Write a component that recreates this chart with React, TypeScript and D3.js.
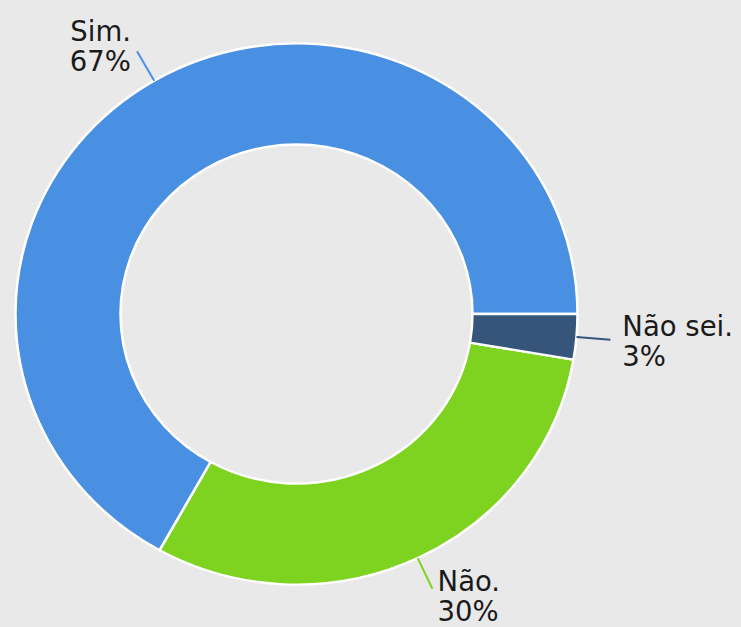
import React from "react";
import * as d3 from "d3";

const categories = ["Sim.", "Não.", "Não sei."];
const values = [66.9, 30.4, 2.7];
const colors = ["#4a90e2", "#7ed321", "#35557a"];

const W = 741;
const H = 627;
const cx = 296.5;
const cy = 314;
const rOuter = 281;
const rInner = 176;
const yScale = 0.963;

export default function App() {
  const total = d3.sum(values);
  // start at 3 o'clock going counter-clockwise
  const pie = d3
    .pie<number>()
    .sort(null)
    .startAngle(Math.PI / 2)
    .endAngle(Math.PI / 2 - 2 * Math.PI);
  const arcs = pie(values);
  const arcGen = d3.arc<d3.PieArcDatum<number>>().innerRadius(rInner).outerRadius(rOuter);

  const labels = arcs.map((a, i) => {
    const mid = (a.startAngle + a.endAngle) / 2;
    const dx = Math.sin(mid);
    const dy = -Math.cos(mid);
    const sx = cx + dx * rOuter;
    const sy = cy + dy * rOuter * yScale;
    const ex = sx + dx * 34;
    const ey = sy + dy * 34;
    const anchor = dx < 0 ? "end" : "start";
    const tx = ex + dx * 12;
    const ty = ey - 4 + 7 * dy;
    const pct = Math.round((values[i] / total) * 100) + "%";
    return { sx, sy, ex, ey, anchor, tx, ty, pct, name: categories[i], color: colors[i] };
  });

  return (
    <svg
      width={W}
      height={H}
      style={{ position: "absolute", left: 0, top: 0, background: "#e9e9e9" }}
    >
      <rect x={0} y={0} width={W} height={H} fill="#e9e9e9" />
      <g transform={`translate(${cx},${cy}) scale(1,${yScale})`}>
        {arcs.map((a, i) => (
          <path key={i} d={arcGen(a) || ""} fill={colors[i]} stroke="#ffffff" strokeWidth={2.5} />
        ))}
      </g>
      {labels.map((l, i) => (
        <g key={i}>
          <line x1={l.sx} y1={l.sy} x2={l.ex} y2={l.ey} stroke={l.color} strokeWidth={2} />
          <text
            x={l.tx}
            y={l.ty}
            textAnchor={l.anchor}
            fontFamily="DejaVu Sans, Verdana, sans-serif"
            fontSize={27.5}
            fill="#1a1a1a"
          >
            <tspan x={l.tx}>{l.name}</tspan>
            <tspan x={l.tx} dy={30}>{l.pct}</tspan>
          </text>
        </g>
      ))}
    </svg>
  );
}
